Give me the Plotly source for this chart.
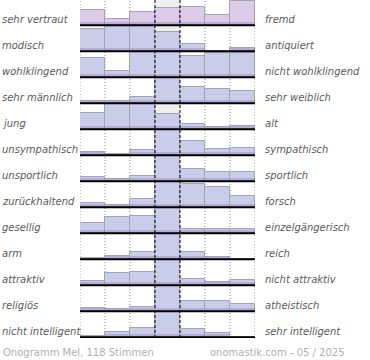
import plotly.graph_objects as go

# ---- data ----
left_labels = ["sehr vertraut", "modisch", "wohlklingend", "sehr männlich", "jung",
               "unsympathisch", "unsportlich", "zurückhaltend", "gesellig", "arm",
               "attraktiv", "religiös", "nicht intelligent"]
right_labels = ["fremd", "antiquiert", "nicht wohlklingend", "sehr weiblich", "alt",
                "sympathisch", "sportlich", "forsch", "einzelgängerisch", "reich",
                "nicht attraktiv", "atheistisch", "sehr intelligent"]
columns = [0, 1, 2, 3, 4, 5, 6]

# vote share per scale step (row height = 25 units; larger values are clipped)
r_vertraut      = [15.7, 6.0, 13.3, 17.7, 18.7, 10.3, 24.0]
r_modisch       = [22.0, 30.0, 30.0, 19.0, 7.0, 0.0, 3.6]
r_wohlklingend  = [19.0, 6.3, 30.0, 32.0, 21.5, 24.3, 24.3]
r_maennlich     = [2.6, 2.6, 6.6, 34.0, 16.0, 14.0, 12.3]
r_jung          = [16.6, 30.0, 28.0, 15.0, 5.0, 2.0, 3.0]
r_unsympathisch = [3.0, 1.6, 5.6, 34.0, 14.0, 6.6, 7.6]
r_unsportlich   = [4.6, 2.0, 5.6, 34.0, 12.5, 9.0, 9.0]
r_zurueck       = [4.0, 2.0, 8.0, 30.0, 23.0, 20.0, 11.6]
r_gesellig      = [10.8, 16.0, 17.0, 30.0, 4.0, 4.0, 4.0]
r_arm           = [1.0, 3.6, 7.6, 36.0, 7.0, 2.0, 0.0]
r_attraktiv     = [4.3, 12.0, 13.0, 34.0, 6.0, 3.0, 5.0]
r_religioes     = [3.0, 2.0, 4.0, 36.0, 10.0, 10.0, 7.0]
r_intelligent   = [1.0, 5.0, 9.0, 34.0, 8.0, 4.8, 0.0]

rows = [r_vertraut, r_modisch, r_wohlklingend, r_maennlich, r_jung, r_unsympathisch,
        r_unsportlich, r_zurueck, r_gesellig, r_arm, r_attraktiv, r_religioes, r_intelligent]

footer_left = "Onogramm Mel, 118 Stimmen"
footer_right = "onomastik.com - 05 / 2025"

# ---- layout constants ----
ROW_H = 26
CAP = 25
N = len(rows)
Y_TOP = 338
W, H = 370, 360
ML, MR, MT, MB = 80, 115, 0, 22
PW = W - ML - MR
PH = H - MT - MB

def baseline(k):
    return Y_TOP - 25.3 - ROW_H * k

xs, ys, bases, colors, bands = [], [], [], [], []
for k, vals in enumerate(rows):
    for c, v in zip(columns, vals):
        xs.append(c)
        ys.append(min(v, CAP))
        bases.append(baseline(k))
        colors.append("#dccbe9" if k == 0 else "#c9cdea")
        bands.append(min(v, 3))

fig = go.Figure()
fig.add_trace(go.Bar(x=xs, y=ys, base=bases, width=1,
                     marker=dict(color=colors, line=dict(color="#a4a4ac", width=1)),
                     hoverinfo="skip"))
fig.add_trace(go.Bar(x=xs, y=bands, base=bases, width=1,
                     marker=dict(color="rgba(150,125,200,0.4)", line=dict(width=0)),
                     hoverinfo="skip"))

shapes = []
# middle column background
shapes.append(dict(type="rect", xref="x", yref="y", x0=2.5, x1=3.5, y0=0, y1=Y_TOP,
                   fillcolor="#eeeeee", line=dict(width=0), layer="below"))
for xb in [-0.5, 0.5, 1.5, 4.5, 5.5, 6.5]:
    shapes.append(dict(type="line", xref="x", yref="y", x0=xb, x1=xb, y0=0, y1=Y_TOP,
                       line=dict(color="#8a8a8a", width=1, dash="1px,2px"), layer="below"))
for xb in [2.5, 3.5]:
    shapes.append(dict(type="line", xref="x", yref="y", x0=xb, x1=xb, y0=0, y1=Y_TOP,
                       line=dict(color="#000000", width=1, dash="3px,2px"), layer="above"))
for k in range(N):
    b = baseline(k)
    shapes.append(dict(type="line", xref="x", yref="y", x0=-0.5, x1=6.55, y0=b, y1=b,
                       line=dict(color="#000000", width=2), layer="above"))

font_lab = dict(family="DejaVu Sans", size=10, color="#5a5a5a", style="italic")
ann = []
for k in range(N):
    yl = baseline(k) + 5.5
    ann.append(dict(xref="paper", yref="y", x=(0 - ML) / PW, y=yl, text=left_labels[k],
                    showarrow=False, xanchor="left", yanchor="middle", font=font_lab))
    ann.append(dict(xref="paper", yref="y", x=(263 - ML) / PW, y=yl, text=right_labels[k],
                    showarrow=False, xanchor="left", yanchor="middle", font=font_lab))
font_ft = dict(family="DejaVu Sans", size=10, color="#b0b0b0")
ann.append(dict(xref="paper", yref="paper", x=(1 - ML) / PW, y=(Y_TOP - 352) / PH,
                text=footer_left, showarrow=False, xanchor="left", yanchor="middle", font=font_ft))
ann.append(dict(xref="paper", yref="paper", x=(347 - ML) / PW, y=(Y_TOP - 352) / PH,
                text=footer_right, showarrow=False, xanchor="right", yanchor="middle", font=font_ft))

fig.update_layout(
    width=W, height=H, margin=dict(l=ML, r=MR, t=MT, b=MB),
    paper_bgcolor="white", plot_bgcolor="white",
    barmode="overlay", bargap=0, showlegend=False,
    xaxis=dict(range=[-0.5, 6.5], visible=False, fixedrange=True),
    yaxis=dict(range=[0, Y_TOP], visible=False, fixedrange=True),
    shapes=shapes, annotations=ann,
)

fig.write_html("out.html", config={"displayModeBar": False},
               post_script="document.body.style.margin='0';")
